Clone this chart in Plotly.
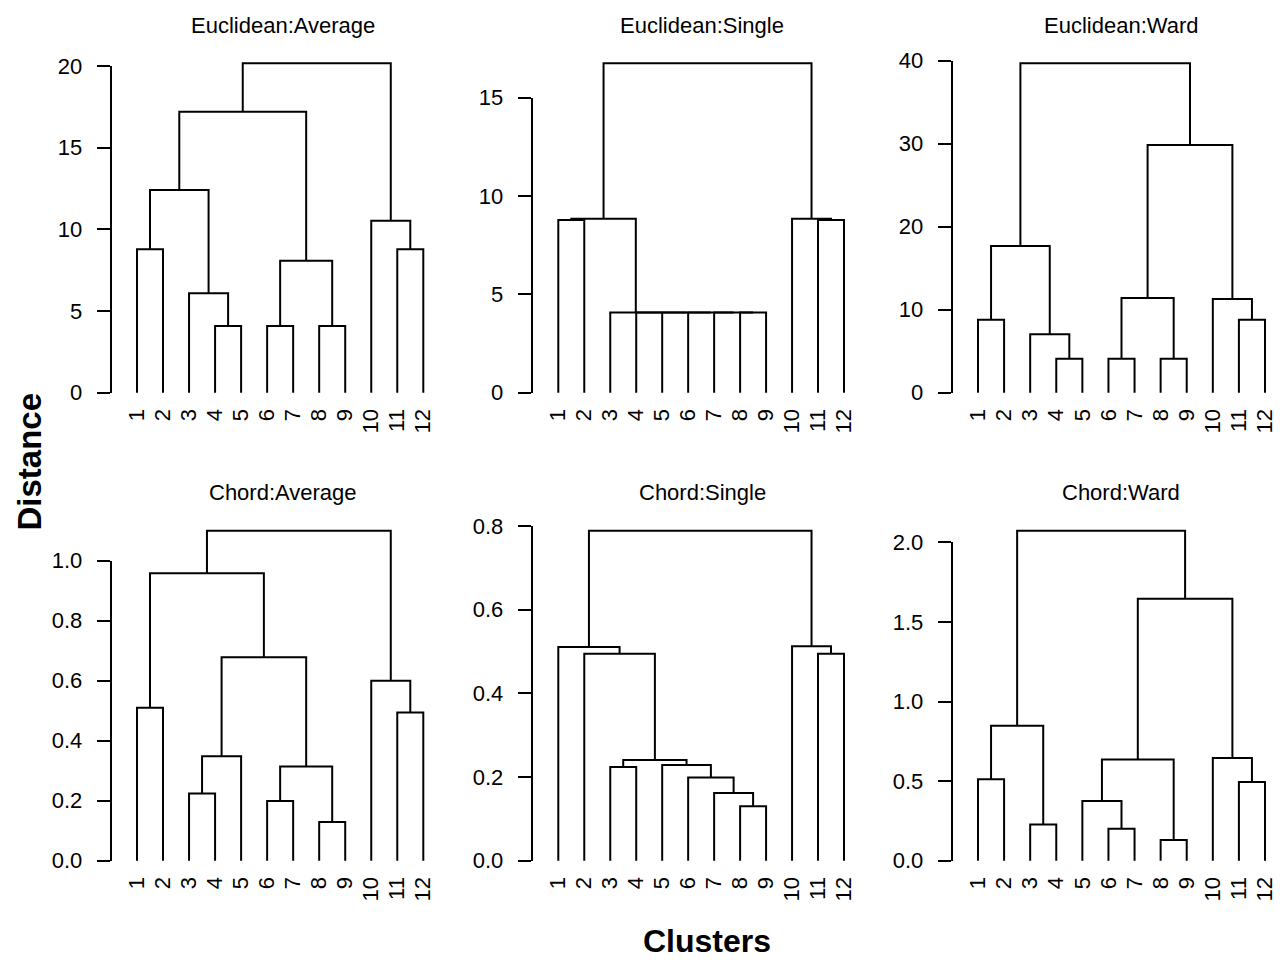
import plotly.graph_objects as go

# ---------------- data ----------------
leaf_order = [1, 2, 3, 4, 5, 6, 7, 8, 9, 10, 11, 12]
leaf_labels = ["1", "2", "3", "4", "5", "6", "7", "8", "9", "10", "11", "12"]

titles = ["Euclidean:Average", "Euclidean:Single", "Euclidean:Ward",
          "Chord:Average", "Chord:Single", "Chord:Ward"]

# merges in R hclust convention: negative = leaf, positive = earlier merge (1-based)
ea_left = [-4, -6, -8, -3, 2, -1, -11, -10, 6, 9, 10]
ea_right = [-5, -7, -9, 1, 3, -2, -12, 7, 4, 5, 8]
ea_height = [4.08, 4.08, 4.08, 6.08, 8.08, 8.78, 8.78, 10.53, 12.41, 17.20, 20.16]

es_left = [-8, -7, -6, -5, -4, -3, -1, -11, 7, -10, 9]
es_right = [-9, 1, 2, 3, 4, 5, -2, -12, 6, 8, 10]
es_height = [4.08, 4.08, 4.08, 4.08, 4.08, 4.08, 8.78, 8.78, 8.85, 8.85, 16.75]

ew_left = [-4, -6, -8, -3, -1, -11, -10, 2, 5, 8, 9]
ew_right = [-5, -7, -9, 1, -2, -12, 6, 3, 4, 7, 10]
ew_height = [4.08, 4.08, 4.08, 7.05, 8.78, 8.78, 11.30, 11.42, 17.67, 29.84, 39.69]

ca_left = [-8, -6, -3, 2, 3, -11, -1, -10, 5, 7, 10]
ca_right = [-9, -7, -4, 1, -5, -12, -2, 6, 4, 9, 8]
ca_height = [0.129, 0.199, 0.224, 0.314, 0.348, 0.494, 0.510, 0.600, 0.678, 0.958, 1.100]

cs_left = [-8, -7, -6, -3, -5, 4, -2, -11, -1, -10, 9]
cs_right = [-9, 1, 2, -4, 3, 5, 6, -12, 7, 8, 10]
cs_height = [0.130, 0.162, 0.199, 0.224, 0.229, 0.241, 0.495, 0.495, 0.511, 0.513, 0.789]

cw_left = [-8, -6, -3, -5, -11, -1, 4, -10, 6, 7, 9]
cw_right = [-9, -7, -4, 2, -12, -2, 1, 5, 3, 8, 10]
cw_height = [0.130, 0.201, 0.227, 0.375, 0.494, 0.512, 0.635, 0.645, 0.848, 1.646, 2.073]

y_ticks = [[0, 5, 10, 15, 20], [0, 5, 10, 15], [0, 10, 20, 30, 40],
           [0, 0.2, 0.4, 0.6, 0.8, 1.0], [0, 0.2, 0.4, 0.6, 0.8], [0, 0.5, 1.0, 1.5, 2.0]]
y_tickfmt = ["d", "d", "d", ".1f", ".1f", ".1f"]

panels = [(ea_left, ea_right, ea_height), (es_left, es_right, es_height),
          (ew_left, ew_right, ew_height), (ca_left, ca_right, ca_height),
          (cs_left, cs_right, cs_height), (cw_left, cw_right, cw_height)]

# ---------------- layout geometry (window pixels) ----------------
OFF = 8                               # default page body margin
W, H = 1284 - 2 * OFF, 968 - 2 * OFF  # figure size that fits the window
axis_px = [110.7, 531.7, 951.7]       # y-axis line x position per column
leaf1_px = [137.0, 558.3, 978.0]      # first leaf x per column
leaf12_px = [423.3, 844.0, 1265.0]    # last leaf x per column
zero_px = [392.7, 860.7]              # y of value 0 per row
top_px = [63.3, 530.7]                # y of top merge per row
label_gap = 11.0                      # x-axis (labels) offset below zero
title_cx = [283, 702, 1121]
title_cy = [25, 492]

LINE = "#000000"
LW = 2.0
FONT = "Liberation Sans, Arial, sans-serif"


def px2x(px):
    return min(max((px - OFF) / W, 0.0), 1.0)


def px2y(py):
    return min(max(1 - (py - OFF) / H, 0.0), 1.0)


def dendro_path(left, right, heights, order):
    pos = {leaf: i + 1 for i, leaf in enumerate(order)}
    nodes = []
    xs, ys = [], []
    for l, r, h in zip(left, right, heights):
        def get(c):
            return (pos[-c], 0.0) if c < 0 else nodes[c - 1]
        x1, y1 = get(l)
        x2, y2 = get(r)
        xs += [x1, x1, x2, x2, None]
        ys += [y1, h, h, y2, None]
        nodes.append(((x1 + x2) / 2.0, h))
    return xs, ys


fig = go.Figure()
layout = {}

for i, (left, right, heights) in enumerate(panels):
    row, col = divmod(i, 3)
    n = i + 1
    dn = i + 7
    xs, ys = dendro_path(left, right, heights, leaf_order)
    xid = "x" if n == 1 else f"x{n}"
    yid = "y" if n == 1 else f"y{n}"
    fig.add_trace(go.Scatter(x=xs, y=ys, mode="lines", xaxis=xid, yaxis=yid,
                             line=dict(color=LINE, width=LW), showlegend=False,
                             hoverinfo="skip"))

    # x geometry
    s = (leaf12_px[col] - leaf1_px[col]) / 11.0
    dl = axis_px[col]
    dr = leaf12_px[col] + 8
    x_lo = 1 - (leaf1_px[col] - dl) / s
    x_hi = 12 + (dr - leaf12_px[col]) / s
    # y geometry
    hmax = max(heights)
    k = (zero_px[row] - top_px[row]) / hmax
    dt = top_px[row] - 14
    db = zero_px[row] + label_gap
    y_lo = -(db - zero_px[row]) / k
    y_hi = (zero_px[row] - dt) / k

    xkey = "xaxis" if n == 1 else f"xaxis{n}"
    ykey = "yaxis" if n == 1 else f"yaxis{n}"
    layout[xkey] = dict(domain=[px2x(dl), px2x(dr)], range=[x_lo, x_hi], anchor=yid,
                        tickmode="array", tickvals=list(range(1, 13)), ticktext=leaf_labels,
                        tickangle=-90, ticks="", showline=False, showgrid=False,
                        zeroline=False, ticklabeloverflow="allow",
                        tickfont=dict(size=22, color="#000", family=FONT),
                        fixedrange=True)
    layout[ykey] = dict(domain=[px2y(db), px2y(dt)], range=[y_lo, y_hi], anchor=xid,
                        visible=False, fixedrange=True)

    # display y axis: line only from 0 to top tick (R style)
    ttop = y_ticks[i][-1]
    ttop_px = zero_px[row] - ttop * k
    layout[f"xaxis{dn}"] = dict(domain=[px2x(dl), px2x(dr)], range=[0, 1], visible=False,
                                anchor=f"y{dn}", fixedrange=True)
    layout[f"yaxis{dn}"] = dict(domain=[px2y(zero_px[row]), px2y(ttop_px)],
                                range=[0, ttop], anchor="free", position=px2x(axis_px[col]),
                                tickmode="array", tickvals=y_ticks[i], tickformat=y_tickfmt[i],
                                ticks="outside", ticklen=13, tickwidth=LW, tickcolor=LINE,
                                showline=True, linewidth=LW, linecolor=LINE,
                                showgrid=False, zeroline=False, ticklabelstandoff=10,
                                tickfont=dict(size=22, color="#000", family=FONT),
                                fixedrange=True)
    fig.add_trace(go.Scatter(x=[None], y=[None], xaxis=f"x{dn}", yaxis=f"y{dn}",
                             mode="lines", showlegend=False, hoverinfo="skip"))

annotations = []
for i, t in enumerate(titles):
    row, col = divmod(i, 3)
    annotations.append(dict(text=t, x=px2x(title_cx[col]), y=px2y(title_cy[row]),
                            xref="paper", yref="paper", xanchor="center", yanchor="middle",
                            showarrow=False, font=dict(size=22, color="#000", family=FONT)))
annotations.append(dict(text="<b>Distance</b>", x=px2x(28.5), y=px2y(462), xref="paper",
                        yref="paper", xanchor="center", yanchor="middle", textangle=-90,
                        showarrow=False, borderpad=0,
                        font=dict(size=33, color="#000", family=FONT)))
annotations.append(dict(text="<b>Clusters</b>", x=px2x(707), y=px2y(941), xref="paper",
                        yref="paper", xanchor="center", yanchor="middle",
                        showarrow=False, borderpad=0,
                        font=dict(size=32, color="#000", family=FONT)))

fig.update_layout(width=W, height=H, margin=dict(l=0, r=0, t=0, b=0, pad=0),
                  paper_bgcolor="white", plot_bgcolor="rgba(0,0,0,0)",
                  template="none", showlegend=False, hovermode=False,
                  font=dict(family=FONT, color="#000"),
                  annotations=annotations, **layout)

fig.write_html("out.html")
